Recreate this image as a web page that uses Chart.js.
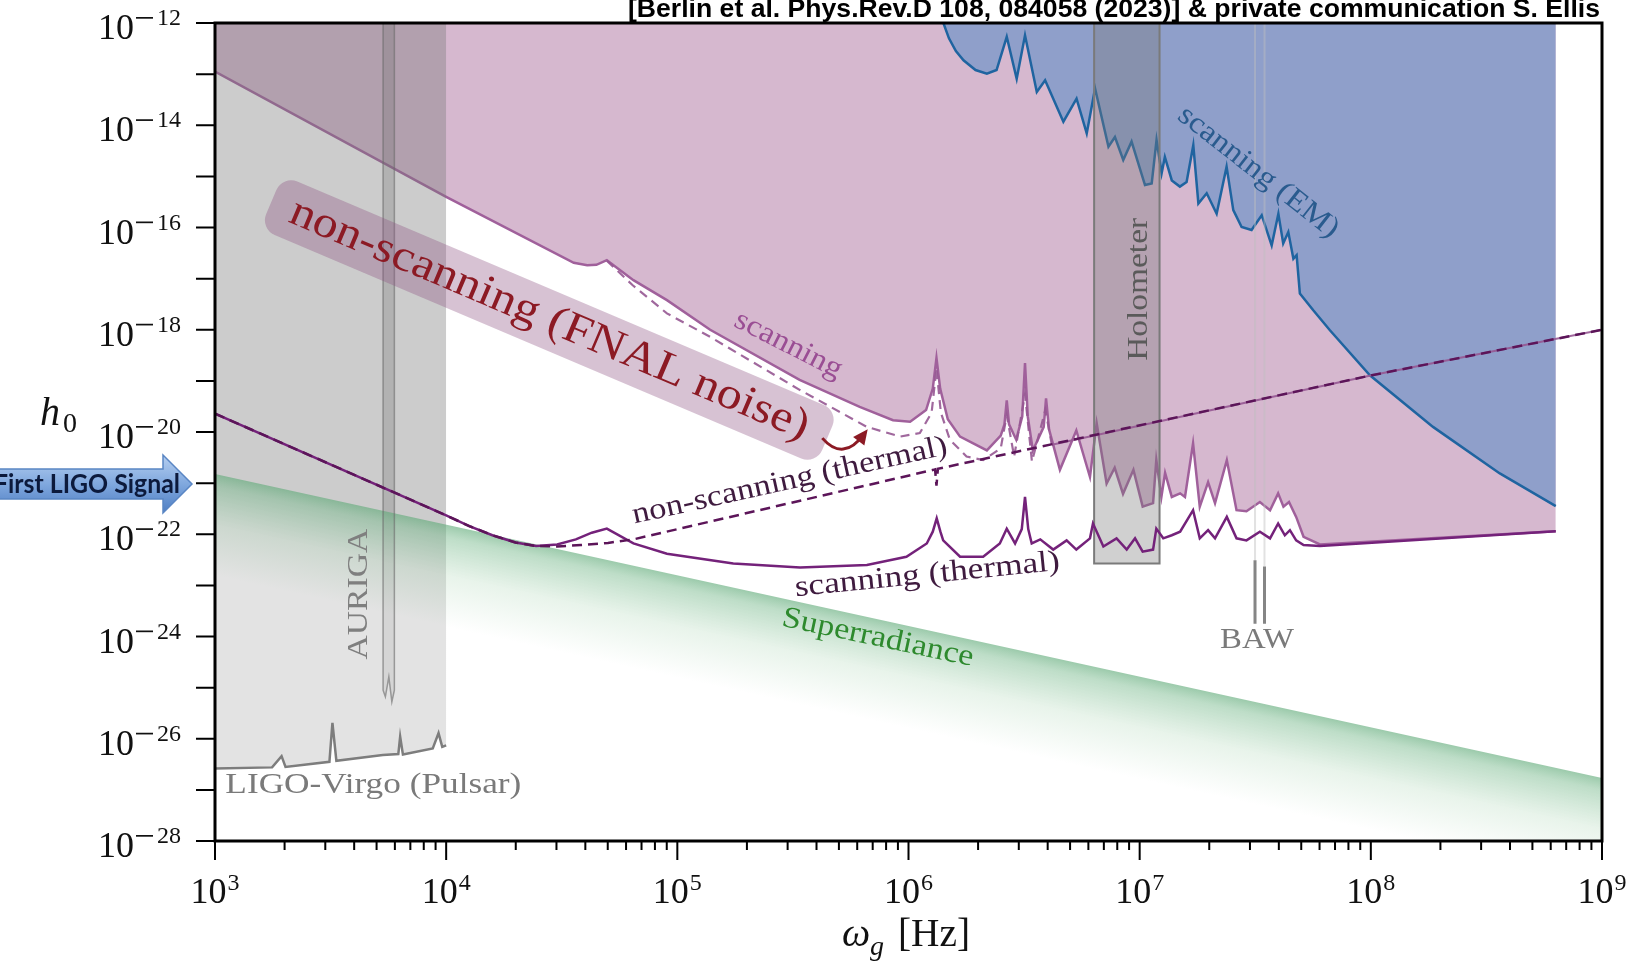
<!DOCTYPE html>
<html lang="en">
<head>
<meta charset="UTF-8">
<title>h0 vs omega_g</title>
<script src="https://cdn.jsdelivr.net/npm/chart.js@4.4.0/dist/chart.umd.min.js"></script>
<style>
  html, body { margin: 0; padding: 0; background: #fff; overflow: hidden; }
  #wrap { width: 1626px; height: 966px; }
</style>
</head>
<body>
<div id="wrap"><canvas id="chart" width="1626" height="966"></canvas></div>
<script>
// every value is log10: x = log10(omega_g / Hz), y = log10(h0)
const fnalScanning = [
  [3.000,-12.95],[4.000,-15.40],[4.552,-16.69],[4.610,-16.74],[4.650,-16.73],[4.695,-16.64],[4.810,-17.03],
  [4.955,-17.42],[5.142,-18.00],[5.529,-18.98],[5.789,-19.51],[5.933,-19.77],[6.007,-19.80],
  [6.076,-19.57],[6.105,-19.15],[6.121,-18.55],[6.137,-19.15],[6.170,-19.75],[6.223,-20.09],
  [6.339,-20.36],[6.399,-20.07],[6.415,-19.85],[6.425,-19.38],[6.435,-19.85],[6.466,-20.15],
  [6.492,-19.70],[6.504,-18.65],[6.516,-19.70],[6.538,-20.36],[6.585,-19.90],[6.595,-19.34],
  [6.608,-19.95],[6.655,-20.74],[6.726,-19.97],[6.785,-20.88],[6.814,-19.83],[6.857,-21.01],
  [6.892,-20.70],[6.928,-21.21],[6.973,-20.74],[7.013,-21.46],[7.058,-21.39],[7.072,-20.55],
  [7.094,-21.27],[7.110,-20.80],[7.139,-21.27],[7.175,-21.20],[7.196,-21.27],[7.231,-20.22],
  [7.260,-21.46],[7.296,-20.98],[7.326,-21.39],[7.377,-20.55],[7.419,-21.53],[7.462,-21.55],
  [7.520,-21.37],[7.564,-21.53],[7.599,-21.20],[7.622,-21.46],[7.646,-21.37],[7.677,-21.66],
  [7.709,-22.05],[7.780,-22.20],[8.800,-21.94]
];
const fnalNonScanning = [
  [4.695,-16.65],[4.807,-17.13],[4.955,-17.68],[5.142,-18.14],[5.531,-19.18],[5.820,-19.90],
  [5.964,-20.09],[6.049,-20.02],[6.100,-19.62],[6.121,-18.75],[6.140,-19.62],[6.179,-20.15],
  [6.251,-20.48],[6.323,-20.55],[6.399,-20.32],[6.425,-19.67],[6.457,-20.48],[6.504,-19.26],
  [6.534,-20.58],[6.592,-19.57],[6.620,-20.25],[8.004,-18.89],[9.000,-18.00]
];
const thermalScanning = [
  [3.000,-19.64],[4.000,-21.63],[4.100,-21.84],[4.200,-22.02],[4.300,-22.16],[4.389,-22.23],
  [4.480,-22.20],[4.561,-22.10],[4.630,-21.97],[4.695,-21.89],[4.810,-22.18],[4.955,-22.38],
  [5.242,-22.57],[5.531,-22.65],[5.820,-22.60],
  [5.991,-22.44],[6.079,-22.18],[6.105,-21.95],[6.122,-21.69],[6.138,-21.95],[6.150,-22.12],
  [6.223,-22.44],[6.323,-22.44],[6.395,-22.18],[6.425,-21.89],[6.461,-22.18],[6.490,-21.90],
  [6.504,-21.27],[6.518,-21.90],[6.533,-22.18],[6.570,-22.10],[6.626,-22.30],[6.684,-22.12],
  [6.726,-22.30],[6.785,-22.08],[6.798,-21.79],[6.843,-22.24],[6.900,-22.08],[6.944,-22.30],
  [6.980,-22.08],[7.013,-22.34],[7.058,-22.30],[7.072,-21.89],[7.102,-22.08],[7.139,-22.02],
  [7.175,-21.95],[7.231,-21.53],[7.260,-22.08],[7.296,-21.92],[7.326,-22.08],[7.377,-21.66],
  [7.419,-22.08],[7.462,-22.12],[7.520,-21.95],[7.564,-22.08],[7.599,-21.79],[7.628,-22.02],
  [7.650,-21.92],[7.677,-22.12],[7.709,-22.21],[7.780,-22.23],[8.800,-21.94]
];
const thermalNonScanning = [
  [3.000,-19.64],[4.000,-21.63],[4.100,-21.84],[4.200,-22.02],[4.300,-22.16],[4.389,-22.23],
  [4.480,-22.24],[4.583,-22.21],[4.700,-22.17],[4.810,-22.10],
  [6.108,-20.74],[6.115,-20.73],[6.121,-21.05],[6.127,-20.72],[8.004,-18.89],[9.000,-18.00]
];
const emScanning = [
  [6.151,-12.00],[6.175,-12.30],[6.205,-12.55],[6.238,-12.73],[6.290,-12.92],[6.339,-12.99],
  [6.381,-12.92],[6.425,-12.27],[6.468,-13.09],
  [6.504,-12.24],[6.555,-13.35],[6.591,-13.12],[6.670,-13.93],[6.727,-13.48],[6.771,-14.16],
  [6.807,-13.28],[6.865,-14.42],[6.893,-14.23],[6.929,-14.68],[6.965,-14.32],[7.023,-15.17],
  [7.052,-15.14],[7.073,-14.29],[7.095,-14.94],[7.109,-14.62],[7.139,-15.08],[7.174,-15.20],
  [7.203,-15.11],[7.232,-14.39],[7.254,-15.53],[7.290,-15.33],[7.333,-15.73],[7.376,-14.81],
  [7.405,-15.66],[7.441,-15.99],[7.484,-16.05],[7.528,-15.76],[7.571,-16.35],[7.600,-15.73],
  [7.621,-16.31],[7.643,-16.09],[7.665,-16.61],[7.679,-16.54],[7.693,-17.29],[7.751,-17.62],
  [7.823,-18.01],[7.996,-18.89],[8.269,-19.90],[8.558,-20.81],[8.800,-21.45]
];
const ligoVirgo = [
  [3.000,-26.58],[3.247,-26.56],[3.288,-26.34],[3.305,-26.55],[3.495,-26.45],[3.508,-25.69],
  [3.525,-26.43],[3.726,-26.32],[3.793,-26.30],[3.801,-25.96],[3.813,-26.31],[3.942,-26.19],
  [3.967,-25.89],[3.983,-26.16],[4.000,-26.13]
];
const auriga = [
  [3.727,-12.00],[3.727,-25.05],[3.737,-25.18],[3.752,-24.79],[3.765,-25.28],[3.776,-25.05],[3.776,-12.00]
];
const holometer = [[6.803,-12.00],[6.803,-22.57],[7.086,-22.57],[7.086,-12.00]];
const bawA = [[7.499,-22.51],[7.499,-23.75]];
const bawB = [[7.540,-22.63],[7.540,-23.75]];
const bawFaintA = [[7.499,-12.00],[7.499,-22.51]];
const bawFaintB = [[7.540,-12.00],[7.540,-22.63]];
const superradiance = [[3.000,-20.82],[9.000,-26.77]];

const xTicks = [3, 4, 5, 6, 7, 8, 9];
const yTicks = [-28, -27, -26, -25, -24, -23, -22, -21, -20, -19, -18, -17, -16, -15, -14, -13, -12];
const yLabelled = [-28, -26, -24, -22, -20, -18, -16, -14, -12];

const SERIF = '"Liberation Serif", "DejaVu Serif", serif';
const pts = arr => arr.map(p => ({ x: p[0], y: p[1] }));

function superGradient(c) {
  const ch = c.chart;
  if (!ch.chartArea) return 'rgba(0,0,0,0)';
  const sx = ch.scales.x, sy = ch.scales.y;
  const x1 = sx.getPixelForValue(superradiance[0][0]), y1 = sy.getPixelForValue(superradiance[0][1]);
  const x2 = sx.getPixelForValue(superradiance[1][0]), y2 = sy.getPixelForValue(superradiance[1][1]);
  const L = Math.hypot(x2 - x1, y2 - y1);
  const nx = -(y2 - y1) / L, ny = (x2 - x1) / L;
  const g = ch.ctx.createLinearGradient(x1, y1, x1 + nx * 100, y1 + ny * 100);
  g.addColorStop(0, 'rgba(95,170,120,0.62)');
  g.addColorStop(0.12, 'rgba(125,188,145,0.5)');
  g.addColorStop(0.5, 'rgba(205,230,210,0.45)');
  g.addColorStop(1, 'rgba(255,255,255,0.45)');
  return g;
}

function putText(ctx, text, x, y, ang, font, color, width) {
  ctx.save();
  ctx.translate(x, y);
  ctx.rotate(ang * Math.PI / 180);
  ctx.font = font;
  ctx.fillStyle = color;
  ctx.textAlign = 'center';
  ctx.textBaseline = 'middle';
  if (width) ctx.scale(width / ctx.measureText(text).width, 1);
  ctx.fillText(text, 0, 0);
  ctx.restore();
}

// "10" with exponent, like the TeX tick labels
function powLabel(ctx, e, xRef, baseY, expY, align) {
  const digits = String(Math.abs(e));
  ctx.font = '36px ' + SERIF;
  const bw = ctx.measureText('10').width;
  ctx.font = '24px ' + SERIF;
  const dw = ctx.measureText(digits).width;
  const ew = (e < 0 ? 23 : 1) + dw;
  const left = align === 'right' ? xRef - bw - ew : xRef - (bw + ew) / 2;
  ctx.fillStyle = '#111';
  ctx.textAlign = 'left';
  ctx.textBaseline = 'alphabetic';
  ctx.font = '36px ' + SERIF;
  ctx.fillText('10', left, baseY);
  let ex = left + bw + 1;
  if (e < 0) {
    ctx.fillRect(ex + 1, expY - 8, 17, 1.7);
    ex += 22;
  }
  ctx.font = '24px ' + SERIF;
  ctx.fillText(digits, ex, expY);
}

const labels = [
  ['scanning', 5.480, -18.30, 27, '#9a4e94', 117],
  ['non-scanning (thermal)', 5.486, -20.96, -12.5, '#3f1b3f', 322],
  ['scanning (thermal)', 6.081, -22.80, -5.7, '#3f1b3f', 266],
  ['Superradiance', 5.867, -24.03, 12, '#2e8a2e', 195],
  ['scanning (EM)', 7.513, -14.92, 38, '#2a5b8e', 196],
  ['Holometer', 6.996, -17.21, -90, '#5a5a5a', 143],
  ['AURIGA', 3.622, -23.17, -90, '#7f7f7f', 131],
  ['LIGO-Virgo (Pulsar)', 3.685, -26.90, 0, '#7a7a7a', 296],
  ['BAW', 7.508, -24.07, 0, '#7a7a7a', 74]
];

const overlay = {
  id: 'overlay',
  afterDatasetsDraw(chart) {
    const ctx = chart.ctx;
    const px = v => chart.scales.x.getPixelForValue(v);
    const py = v => chart.scales.y.getPixelForValue(v);

    // highlighted FNAL label
    const bx = px(4.446), by = py(-17.81);
    ctx.save();
    ctx.translate(bx, by);
    ctx.rotate(23 * Math.PI / 180);
    ctx.fillStyle = 'rgba(140,80,130,0.35)';
    ctx.beginPath();
    ctx.roundRect(-302, -29, 604, 58, 16);
    ctx.fill();
    ctx.restore();
    putText(ctx, 'non-scanning (FNAL noise)', bx, by, 23, '44px ' + SERIF, '#8c1a24', 560);

    // small curved arrow
    const x0 = px(5.627), y0 = py(-20.12), x1 = px(5.808), y1 = py(-20.04);
    const cx = (x0 + x1) / 2, cy = Math.max(y0, y1) + 24;
    ctx.save();
    ctx.strokeStyle = '#8c1a24';
    ctx.fillStyle = '#8c1a24';
    ctx.lineWidth = 3;
    ctx.beginPath();
    ctx.moveTo(x0, y0);
    ctx.quadraticCurveTo(cx, cy, x1, y1);
    ctx.stroke();
    const ang = Math.atan2(y1 - cy, x1 - cx);
    ctx.translate(x1, y1);
    ctx.rotate(ang);
    ctx.beginPath();
    ctx.moveTo(6, 0);
    ctx.lineTo(-9, -7);
    ctx.lineTo(-9, 7);
    ctx.closePath();
    ctx.fill();
    ctx.restore();

    labels.forEach(l => putText(ctx, l[0], px(l[1]), py(l[2]), l[3], '30px ' + SERIF, l[4], l[5]));
  },
  afterDraw(chart) {
    const ctx = chart.ctx;
    const a = chart.chartArea;
    const px = v => chart.scales.x.getPixelForValue(v);
    const py = v => chart.scales.y.getPixelForValue(v);
    ctx.save();
    ctx.strokeStyle = '#000';
    ctx.lineWidth = 2;
    ctx.beginPath();
    yTicks.forEach(t => { const y = py(t); ctx.moveTo(a.left - 19, y); ctx.lineTo(a.left, y); });
    xTicks.forEach((t, i) => {
      const x = px(t);
      ctx.moveTo(x, a.bottom); ctx.lineTo(x, a.bottom + 19);
      if (i < xTicks.length - 1) {
        for (let k = 2; k <= 9; k++) {
          const xm = px(t + Math.log10(k));
          ctx.moveTo(xm, a.bottom); ctx.lineTo(xm, a.bottom + 9);
        }
      }
    });
    ctx.stroke();
    ctx.lineWidth = 3;
    ctx.strokeRect(a.left, a.top, a.right - a.left, a.bottom - a.top);

    yLabelled.forEach(t => { const y = py(t); powLabel(ctx, t, 181, y + 16, y + 2, 'right'); });
    xTicks.forEach(t => powLabel(ctx, t, px(t), a.bottom + 62, a.bottom + 49, 'center'));

    // axis titles
    ctx.fillStyle = '#111';
    ctx.textAlign = 'left';
    ctx.textBaseline = 'alphabetic';
    ctx.font = 'italic 40px ' + SERIF;
    ctx.fillText('h', 40, 425);
    ctx.font = '28px ' + SERIF;
    ctx.fillText('0', 63, 432);
    ctx.font = 'italic 40px ' + SERIF;
    ctx.fillText('\u03c9', 842, 946);
    ctx.font = 'italic 28px ' + SERIF;
    ctx.fillText('g', 870, 955);
    ctx.save();
    ctx.font = '40px ' + SERIF;
    ctx.translate(898, 946);
    ctx.scale(72 / ctx.measureText('[Hz]').width, 1);
    ctx.fillText('[Hz]', 0, 0);
    ctx.restore();

    // source line at the top
    ctx.save();
    ctx.font = 'bold 26px "Liberation Sans", Arial, sans-serif';
    ctx.fillStyle = '#000';
    const src = '[Berlin et al. Phys.Rev.D 108, 084058 (2023)] & private communication S. Ellis';
    ctx.translate(628, 16.5);
    ctx.scale(972 / ctx.measureText(src).width, 1);
    ctx.fillText(src, 0, 0);
    ctx.restore();

    // "First LIGO Signal" callout arrow
    const g = ctx.createLinearGradient(0, 455, 0, 513);
    g.addColorStop(0, '#b6cff0');
    g.addColorStop(0.5, '#80a8de');
    g.addColorStop(1, '#4e7ec3');
    ctx.beginPath();
    ctx.moveTo(-5, 469); ctx.lineTo(163, 469); ctx.lineTo(163, 455); ctx.lineTo(192, 484);
    ctx.lineTo(163, 513); ctx.lineTo(163, 499); ctx.lineTo(-5, 499); ctx.closePath();
    ctx.fillStyle = g;
    ctx.fill();
    ctx.strokeStyle = '#5a86c4';
    ctx.lineWidth = 1.5;
    ctx.stroke();
    ctx.save();
    ctx.font = 'bold 26px Lato, "Open Sans", sans-serif';
    ctx.fillStyle = '#0c1a3c';
    const sig = 'First LIGO Signal';
    const sw = ctx.measureText(sig).width;
    ctx.translate(-6, 493);
    ctx.scale(186 / sw, 1);
    ctx.fillText(sig, 0, 0);
    ctx.restore();
    ctx.restore();
  }
};

new Chart(document.getElementById('chart'), {
  type: 'line',
  data: {
    datasets: [
      { data: pts(fnalScanning), order: 20, borderColor: '#a0609b', borderWidth: 2.5,
        backgroundColor: '#d6b8cf', fill: 'end' },
      { data: pts(emScanning), order: 19, borderColor: '#1f64a0', borderWidth: 2.5,
        backgroundColor: '#8f9fca', fill: 'end' },
      { data: pts(ligoVirgo), order: 18, borderColor: 'rgba(0,0,0,0)', borderWidth: 0,
        backgroundColor: 'rgba(120,120,120,0.38)', fill: 'end' },
      { data: pts(auriga), order: 17, borderColor: 'rgba(0,0,0,0)', borderWidth: 0,
        backgroundColor: 'rgba(110,110,110,0.28)', fill: 'end' },
      { data: pts(holometer), order: 16, borderColor: '#7a7a7a', borderWidth: 2,
        backgroundColor: 'rgba(120,120,120,0.35)', fill: 'end' },
      { data: pts(superradiance), order: 15, borderColor: 'rgba(0,0,0,0)', borderWidth: 0,
        backgroundColor: superGradient, fill: 'start' },
      { data: pts(ligoVirgo), order: 14, borderColor: '#7d7d7d', borderWidth: 2.5, fill: false },
      { data: pts(auriga), order: 14, borderColor: 'rgba(105,105,105,0.6)', borderWidth: 1.5, fill: false },
      { data: pts(bawFaintA), order: 14, borderColor: 'rgba(190,190,190,0.45)', borderWidth: 2, fill: false },
      { data: pts(bawFaintB), order: 14, borderColor: 'rgba(190,190,190,0.45)', borderWidth: 2, fill: false },
      { data: pts(bawA), order: 13, borderColor: '#858585', borderWidth: 3, fill: false },
      { data: pts(bawB), order: 13, borderColor: '#858585', borderWidth: 3, fill: false },
      { data: pts(fnalNonScanning), order: 12, borderColor: 'rgba(150,88,146,0.9)', borderWidth: 2.2,
        fill: false, segment: { borderDash: c => (c.p0.parsed.x >= 6.6 ? [] : [9, 6]) } },
      { data: pts(thermalScanning), order: 11, borderColor: '#74227a', borderWidth: 2.5, fill: false },
      { data: pts(thermalNonScanning), order: 10, borderColor: '#5c1559', borderWidth: 2.5,
        borderDash: [10, 6], fill: false }
    ]
  },
  options: {
    responsive: false,
    animation: false,
    layout: { padding: { left: 215, right: 24, top: 23, bottom: 125 } },
    plugins: { legend: { display: false }, tooltip: { enabled: false } },
    elements: { point: { radius: 0 }, line: { tension: 0 } },
    scales: {
      x: { type: 'linear', min: 3, max: 9, display: false },
      y: { type: 'linear', min: -28, max: -12, display: false }
    }
  },
  plugins: [overlay]
});
</script>
</body>
</html>
